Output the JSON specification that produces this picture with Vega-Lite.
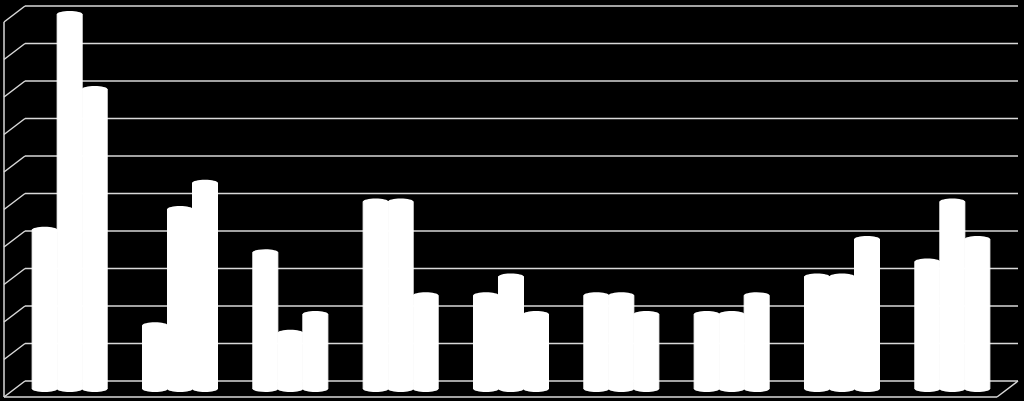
{
  "$schema": "https://vega.github.io/schema/vega-lite/v6.json",
  "width": 1024,
  "height": 401,
  "autosize": {"type": "fit", "contains": "padding"},
  "padding": 0,
  "background": "#000000",
  "datasets": {
    "bars": [
      {"group": 1, "series": "a", "value": 8.5},
      {"group": 1, "series": "b", "value": 20},
      {"group": 1, "series": "c", "value": 16},
      {"group": 2, "series": "a", "value": 3.4},
      {"group": 2, "series": "b", "value": 9.6},
      {"group": 2, "series": "c", "value": 11},
      {"group": 3, "series": "a", "value": 7.3},
      {"group": 3, "series": "b", "value": 3},
      {"group": 3, "series": "c", "value": 4},
      {"group": 4, "series": "a", "value": 10},
      {"group": 4, "series": "b", "value": 10},
      {"group": 4, "series": "c", "value": 5},
      {"group": 5, "series": "a", "value": 5},
      {"group": 5, "series": "b", "value": 6},
      {"group": 5, "series": "c", "value": 4},
      {"group": 6, "series": "a", "value": 5},
      {"group": 6, "series": "b", "value": 5},
      {"group": 6, "series": "c", "value": 4},
      {"group": 7, "series": "a", "value": 4},
      {"group": 7, "series": "b", "value": 4},
      {"group": 7, "series": "c", "value": 5},
      {"group": 8, "series": "a", "value": 6},
      {"group": 8, "series": "b", "value": 6},
      {"group": 8, "series": "c", "value": 8},
      {"group": 9, "series": "a", "value": 6.8},
      {"group": 9, "series": "b", "value": 10},
      {"group": 9, "series": "c", "value": 8}
    ],
    "ticks": [
      {"v": 0}, {"v": 2}, {"v": 4}, {"v": 6}, {"v": 8}, {"v": 10},
      {"v": 12}, {"v": 14}, {"v": 16}, {"v": 18}, {"v": 20}
    ]
  },
  "encoding": {
    "y": {
      "type": "quantitative",
      "scale": {"domain": [-0.2133, 21.1733], "range": [401, 0], "nice": false, "zero": false},
      "axis": null
    }
  },
  "layer": [
    {
      "data": {"name": "ticks"},
      "mark": {"type": "rule", "color": "#d9d9d9", "strokeWidth": 1.5, "xOffset": 21, "x2Offset": 21, "yOffset": -16},
      "encoding": {
        "x": {"datum": 0, "type": "quantitative", "scale": {"domain": [0, 9], "range": [4, 997]}, "axis": null},
        "x2": {"datum": 9},
        "y": {"field": "v", "type": "quantitative"}
      }
    },
    {
      "data": {"name": "ticks"},
      "mark": {"type": "rule", "color": "#d9d9d9", "strokeWidth": 1.5, "x2Offset": 21, "y2Offset": -16},
      "encoding": {
        "x": {"datum": 0, "type": "quantitative", "scale": {"domain": [0, 9], "range": [4, 997]}, "axis": null},
        "x2": {"datum": 0},
        "y": {"field": "v", "type": "quantitative"},
        "y2": {"field": "v"}
      }
    },
    {
      "data": {"values": [{"from": 0, "to": 20}]},
      "mark": {"type": "rule", "color": "#d9d9d9", "strokeWidth": 1.5},
      "encoding": {
        "x": {"datum": 0, "type": "quantitative", "scale": {"domain": [0, 9], "range": [4, 997]}, "axis": null},
        "y": {"field": "from", "type": "quantitative"},
        "y2": {"field": "to"}
      }
    },
    {
      "data": {"values": [{"v": 0}]},
      "mark": {"type": "rule", "color": "#d9d9d9", "strokeWidth": 1.5},
      "encoding": {
        "x": {"datum": 0, "type": "quantitative", "scale": {"domain": [0, 9], "range": [4, 997]}, "axis": null},
        "x2": {"datum": 9},
        "y": {"field": "v", "type": "quantitative"}
      }
    },
    {
      "data": {"values": [{"v": 0}]},
      "mark": {"type": "rule", "color": "#d9d9d9", "strokeWidth": 1.5, "x2Offset": 21, "y2Offset": -16},
      "encoding": {
        "x": {"datum": 9, "type": "quantitative", "scale": {"domain": [0, 9], "range": [4, 997]}, "axis": null},
        "x2": {"datum": 9},
        "y": {"field": "v", "type": "quantitative"},
        "y2": {"field": "v"}
      }
    },
    {
      "data": {"name": "bars"},
      "layer": [
        {
          "mark": {"type": "bar", "fill": "#ffffff", "stroke": "#ffffff", "strokeWidth": 1, "yOffset": -8, "y2Offset": -8},
          "encoding": {
            "x": {"field": "group", "type": "nominal", "scale": {"range": [14.5, 1007.5], "paddingInner": 0.32, "paddingOuter": 0.16}, "axis": null},
            "xOffset": {"field": "series", "type": "nominal"},
            "y": {"field": "value", "type": "quantitative"},
            "y2": {"datum": 0}
          }
        },
        {
          "mark": {"type": "point", "filled": true, "opacity": 1, "color": "#ffffff", "size": 625, "yOffset": -8, "shape": "M-1,0A1,0.24,0,1,1,1,0A1,0.24,0,1,1,-1,0Z"},
          "encoding": {
            "x": {"field": "group", "type": "nominal", "scale": {"range": [14.5, 1007.5], "paddingInner": 0.32, "paddingOuter": 0.16}, "axis": null},
            "xOffset": {"field": "series", "type": "nominal"},
            "y": {"field": "value", "type": "quantitative"}
          }
        },
        {
          "mark": {"type": "point", "filled": true, "opacity": 1, "color": "#ffffff", "size": 625, "yOffset": -8, "shape": "M-1,0A1,0.24,0,1,1,1,0A1,0.24,0,1,1,-1,0Z"},
          "encoding": {
            "x": {"field": "group", "type": "nominal", "scale": {"range": [14.5, 1007.5], "paddingInner": 0.32, "paddingOuter": 0.16}, "axis": null},
            "xOffset": {"field": "series", "type": "nominal"},
            "y": {"datum": 0, "type": "quantitative"}
          }
        }
      ]
    }
  ],
  "resolve": {"scale": {"x": "independent"}},
  "config": {"view": {"stroke": null}}
}
